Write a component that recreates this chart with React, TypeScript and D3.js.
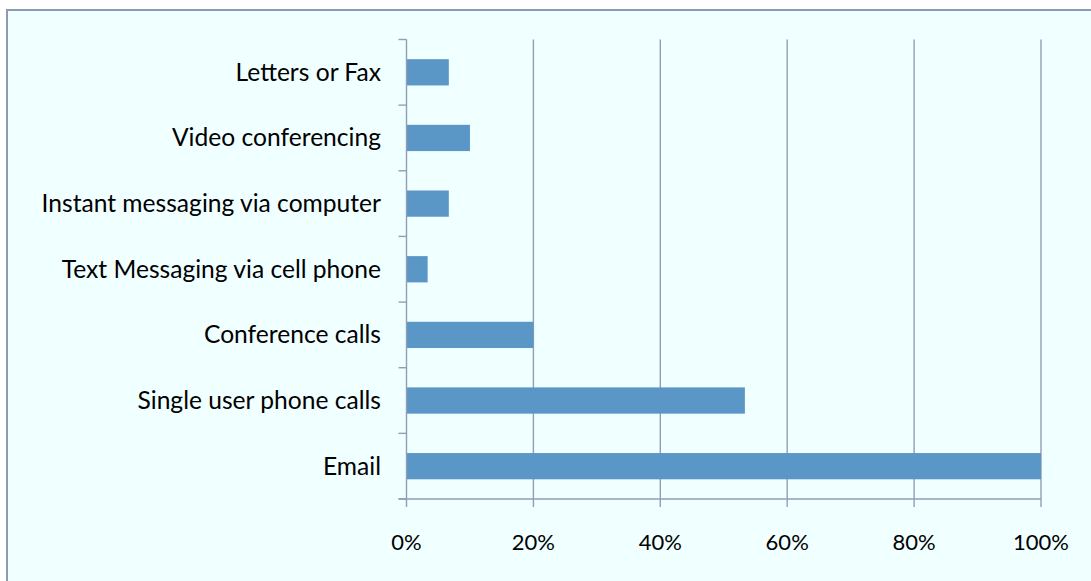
import React from "react";
import * as d3 from "d3";

const categories = [
  "Letters or Fax",
  "Video conferencing",
  "Instant messaging via computer",
  "Text Messaging via cell phone",
  "Conference calls",
  "Single user phone calls",
  "Email",
];
const values = [6.67, 10, 6.67, 3.33, 20, 53.33, 100];
const xTicks = [0, 20, 40, 60, 80, 100];

const W = 1091;
const H = 581;
const left = 406.5;
const right = 1041;
const top = 39.5;
const bottom = 499;
const gridColor = "#939DB7";
const font = "Lato, 'Open Sans', sans-serif";

export default function App() {
  const x = d3.scaleLinear().domain([0, 100]).range([left, right]);
  const y = d3.scaleBand().domain(categories).range([top, bottom]).paddingInner(0.6).paddingOuter(0.3);
  const band = d3.scaleBand().domain(categories).range([top, bottom]);
  const tickYs = d3.range(categories.length + 1).map((i) => top + i * band.step());

  return (
    <svg width={W} height={H} style={{ position: "absolute", left: 0, top: 0 }}>
      <rect x={0} y={0} width={W} height={H} fill="#FFFFFF" />
      <rect x={7} y={10} width={W + 20} height={H + 20} fill="#F0FFFF" stroke="#8D9AB4" strokeWidth={2} />
      {xTicks.slice(1).map((t) => (
        <line key={"g" + t} x1={x(t)} x2={x(t)} y1={top} y2={bottom + 8} stroke={gridColor} strokeWidth={1.4} />
      ))}
      {values.map((v, i) => (
        <rect
          key={categories[i]}
          x={x(0)}
          y={y(categories[i])}
          width={x(v) - x(0)}
          height={y.bandwidth()}
          fill="#5A97C6"
        />
      ))}
      <line x1={left} x2={left} y1={top} y2={bottom + 8} stroke={gridColor} strokeWidth={1.4} />
      <line x1={left - 8} x2={right} y1={bottom} y2={bottom} stroke={gridColor} strokeWidth={1.4} />
      {tickYs.map((ty, i) => (
        <line key={"t" + i} x1={left - 8} x2={left} y1={ty} y2={ty} stroke={gridColor} strokeWidth={1.4} />
      ))}
      {categories.map((c) => (
        <text
          key={"l" + c}
          x={381}
          y={(band(c) as number) + band.bandwidth() / 2 + 8.5}
          textAnchor="end"
          fontFamily={font}
          fontSize={24.6}
          fill="#000"
        >
          {c}
        </text>
      ))}
      {xTicks.map((t) => (
        <text key={"x" + t} x={x(t)} y={550} textAnchor="middle" fontFamily={font} fontSize={22} fill="#000">
          {t + "%"}
        </text>
      ))}
    </svg>
  );
}
